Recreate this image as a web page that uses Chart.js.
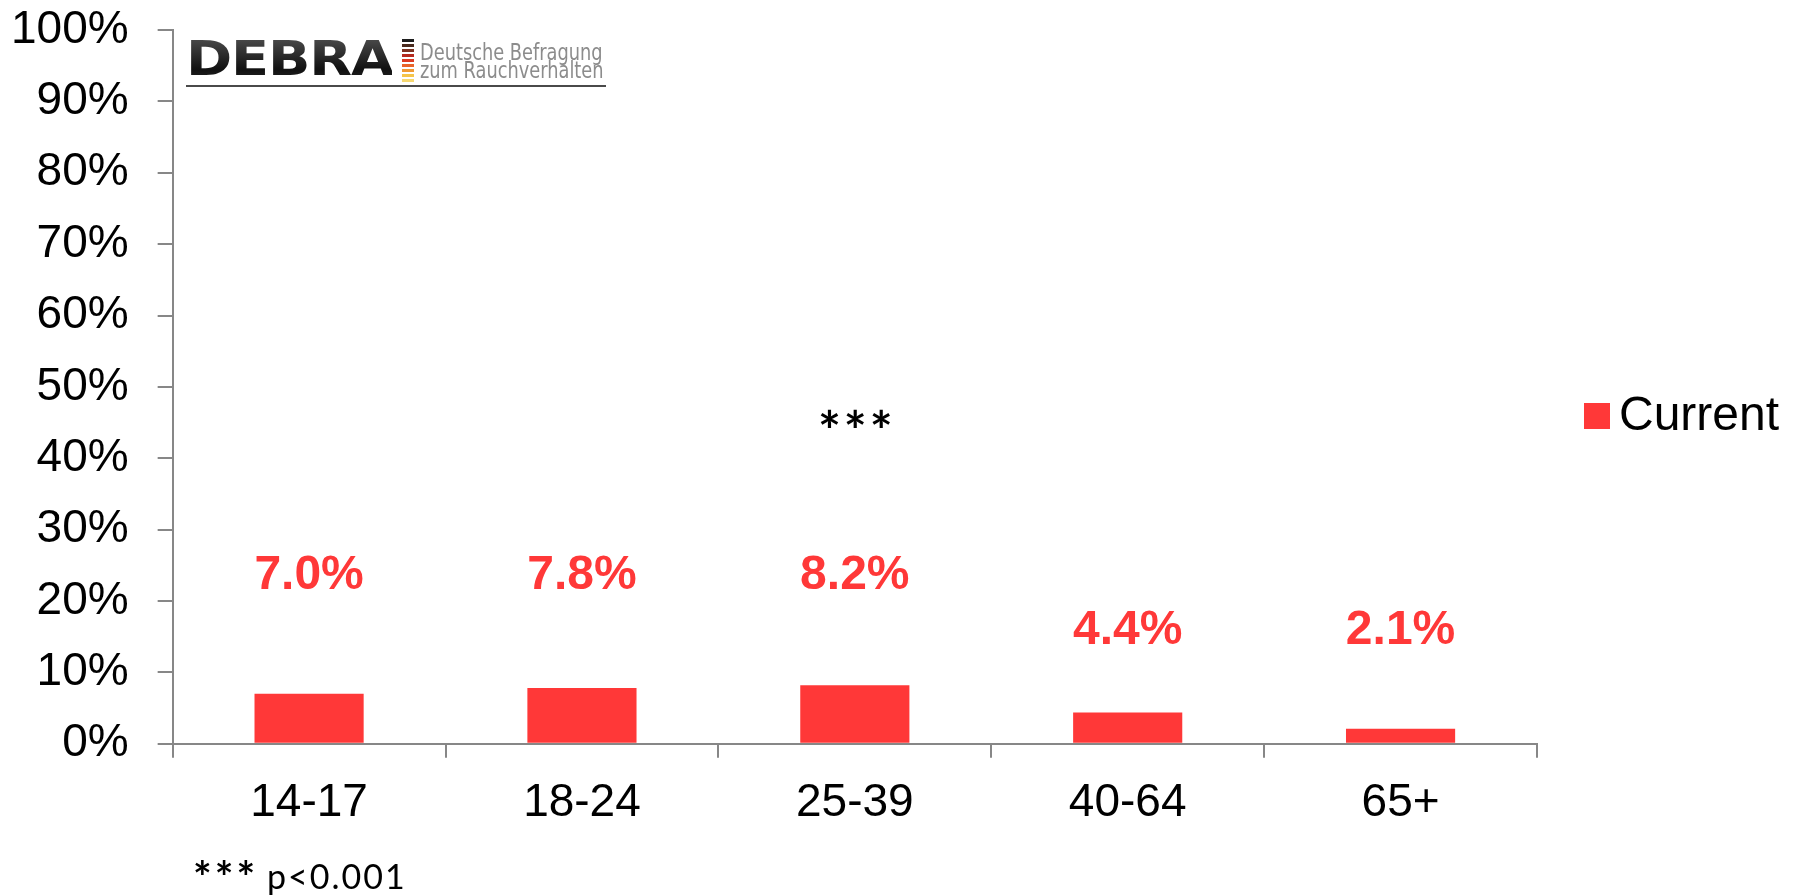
<!DOCTYPE html>
<html>
<head>
<meta charset="utf-8">
<script src="https://cdn.jsdelivr.net/npm/chart.js@4/dist/chart.umd.min.js"></script>
<style>
  body { margin: 0; background: #fff; }
  #wrap { position: relative; width: 1795px; height: 896px; }
  #logo { position: absolute; left: 186px; top: 36px; width: 420px; height: 49px; border-bottom: 2px solid #4a4a4a; }
  #logo .name { position: absolute; left: 0; top: -6px; font: bold 48px "DejaVu Sans", sans-serif; letter-spacing: -1px;
    transform: scaleX(1.16); transform-origin: left top;
    background: linear-gradient(#5a5a5a, #111 70%, #2a2a2a); -webkit-background-clip: text; color: transparent; }
  #logo .stripes { position: absolute; left: 216px; top: 3px; width: 12px; }
  #logo .stripes div { height: 3px; margin-bottom: 2px; }
  #logo .sub { position: absolute; left: 234px; top: 7px; font: 23px "DejaVu Sans Condensed", "DejaVu Sans", sans-serif; color: #8c8c8c;
    line-height: 18px; white-space: nowrap; transform: scaleX(0.86); transform-origin: left top; }
</style>
</head>
<body>
<div id="wrap">
  <canvas id="chart"></canvas>
  <div id="logo">
    <div class="name">DEBRA</div>
    <div class="stripes" id="stripes"></div>
    <div class="sub">Deutsche Befragung<br>zum Rauchverhalten</div>
  </div>
</div>
<script>
// Data
const ageGroups = ['14-17', '18-24', '25-39', '40-64', '65+'];
const currentRate = [7.0, 7.8, 8.2, 4.4, 2.1];
const labelLevel = [23.5, 23.5, 23.5, 15.8, 15.8]; // where the value labels sit (in %)
const yTicks = [0, 10, 20, 30, 40, 50, 60, 70, 80, 90, 100];
const seriesName = 'Current';
const sigGroup = '25-39';
const sigLevel = 45.3;
const sigMark = '***';
const footnoteText = 'p<0.001';

const barColor = 'rgb(255, 56, 56)';
const axisColor = '#878787';
const stripeColors = ['#1e1e1e', '#4a2a1e', '#7d3322', '#b52a1f', '#dc3a22', '#e8642a', '#f09a35', '#f5c44a', '#f7d870'];

// Logo stripes
document.getElementById('stripes').innerHTML = stripeColors.map(c => `<div style="background:${c}"></div>`).join('');

const textFont = '"Liberation Sans", Arial, sans-serif';
const yPad = 29;
const xPad = 18;

// Labels, significance mark, legend and footnote
const extras = {
  id: 'extras',
  afterDatasetsDraw(chart) {
    const { ctx, scales: { x, y } } = chart;
    ctx.save();
    ctx.textAlign = 'center';
    ctx.textBaseline = 'middle';
    ctx.fillStyle = barColor;
    ctx.font = 'bold 48px ' + textFont;
    currentRate.forEach((v, i) => {
      ctx.fillText(v.toFixed(1) + '%', x.getPixelForValue(i), y.getPixelForValue(labelLevel[i]));
    });

    ctx.fillStyle = '#000';
    ctx.font = 'bold 54px Lato, sans-serif';
    ctx.letterSpacing = '3px';
    ctx.fillText(sigMark, x.getPixelForValue(ageGroups.indexOf(sigGroup)) + 2, y.getPixelForValue(sigLevel) + 12);

    // legend
    ctx.letterSpacing = '0px';
    ctx.fillStyle = barColor;
    ctx.fillRect(1584, 403, 26, 26);
    ctx.fillStyle = '#000';
    ctx.textAlign = 'left';
    ctx.font = '48px ' + textFont;
    ctx.fillText(seriesName, 1619, 417);

    // footnote
    ctx.textBaseline = 'alphabetic';
    ctx.font = 'bold 44px Lato, sans-serif';
    ctx.letterSpacing = '3px';
    ctx.fillText(sigMark, 193, 893);
    ctx.font = '34px Lato, sans-serif';
    ctx.letterSpacing = '2px';
    ctx.fillText(footnoteText, 267, 889);
    ctx.restore();
  }
};

// Chart
const createChart = () => {
  const ctx = document.getElementById('chart').getContext('2d');
  new Chart(ctx, {
    type: 'bar',
    data: {
      labels: ageGroups,
      datasets: [{
        label: seriesName,
        data: currentRate,
        backgroundColor: barColor,
        categoryPercentage: 1,
        barPercentage: 0.4
      }]
    },
    options: {
      responsive: true,
      maintainAspectRatio: false,
      animation: false,
      layout: { padding: { top: 0, left: 11, right: 258, bottom: 65 } },
      plugins: {
        legend: { display: false },
        tooltip: { enabled: false }
      },
      scales: {
        x: {
          afterFit: (axis) => { axis.height -= xPad; },
          grid: { drawOnChartArea: false, offset: true, color: axisColor, lineWidth: 2, tickLength: 14 },
          border: { color: axisColor, width: 2 },
          ticks: { color: '#000', font: { size: 46, family: textFont }, padding: xPad }
        },
        y: {
          min: 0,
          max: 100,
          afterBuildTicks: (axis) => { axis.ticks = yTicks.map(v => ({ value: v })); },
          afterFit: (axis) => { axis.width -= yPad; axis.paddingTop = 30; axis.paddingBottom = 0; },
          grid: { drawOnChartArea: false, color: axisColor, lineWidth: 2, tickLength: 15 },
          border: { color: axisColor, width: 2 },
          ticks: { color: '#000', font: { size: 46, family: textFont }, padding: yPad, callback: v => v + '%' }
        }
      }
    },
    plugins: [extras]
  });
};

document.addEventListener('DOMContentLoaded', createChart);
</script>
</body>
</html>
